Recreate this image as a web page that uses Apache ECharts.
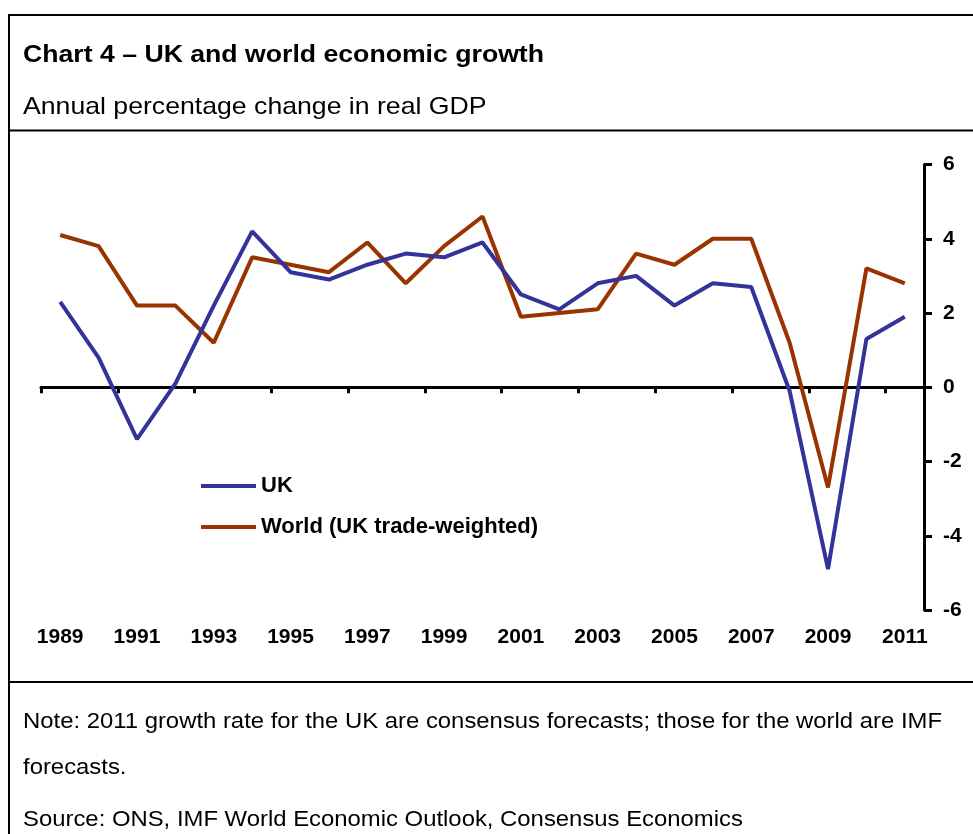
<!DOCTYPE html>
<html>
<head>
<meta charset="utf-8">
<script src="https://cdn.jsdelivr.net/npm/echarts@6/dist/echarts.min.js"></script>
<style>
  html, body { margin: 0; padding: 0; background: #fff; }
  #chart { width: 973px; height: 834px; }
</style>
</head>
<body>
<div id="chart"></div>
<script>
var years = ["1989", "1990", "1991", "1992", "1993", "1994", "1995", "1996", "1997", "1998", "1999", "2000",
  "2001", "2002", "2003", "2004", "2005", "2006", "2007", "2008", "2009", "2010", "2011"];
var ukGrowth = [2.3, 0.8, -1.4, 0.1, 2.2, 4.2, 3.1, 2.9, 3.3, 3.6, 3.5, 3.9,
  2.5, 2.1, 2.8, 3.0, 2.2, 2.8, 2.7, -0.1, -4.9, 1.3, 1.9];
var worldGrowth = [4.1, 3.8, 2.2, 2.2, 1.2, 3.5, 3.3, 3.1, 3.9, 2.8, 3.8, 4.6,
  1.9, 2.0, 2.1, 3.6, 3.3, 4.0, 4.0, 1.2, -2.7, 3.2, 2.8];
var yTicks = { min: -6, max: 6, step: 2 };

var FONT = "Liberation Sans, Arial, sans-serif";
var chart = echarts.init(document.getElementById("chart"));

// stretched text like the original (Excel export is a bit wider)
function txt(x, y, s, font, sx) {
  return { type: "text", x: x, y: y, scaleX: sx, style: { text: s, font: font, fill: "#000", textVerticalAlign: "middle" } };
}

var option = {
  animation: false,
  backgroundColor: "#fff",
  grid: { left: 41, right: 49, top: 164.5, bottom: 224 },
  legend: {
    orient: "vertical",
    left: 201,
    top: 475,
    padding: 0,
    itemWidth: 55,
    itemHeight: 4,
    itemGap: 19,
    icon: "rect",
    textStyle: { fontFamily: FONT, fontWeight: "bold", fontSize: 22, color: "#000", lineHeight: 20 },
    data: ["UK", "World (UK trade-weighted)"]
  },
  xAxis: [
    {
      type: "category",
      data: years,
      boundaryGap: true,
      axisLine: { onZero: true, lineStyle: { color: "#000", width: 3 } },
      axisTick: { show: true, interval: 1, length: 6, lineStyle: { color: "#000", width: 3 } },
      axisLabel: { show: false }
    },
    {
      type: "category",
      data: years,
      position: "bottom",
      boundaryGap: true,
      axisLine: { show: false },
      axisTick: { show: false },
      axisLabel: { interval: 1, margin: 17, fontFamily: FONT, fontWeight: "bold", fontSize: 21, color: "#000" }
    }
  ],
  yAxis: {
    type: "value",
    position: "right",
    min: yTicks.min,
    max: yTicks.max,
    interval: yTicks.step,
    axisLine: { show: true, lineStyle: { color: "#000", width: 3 } },
    axisTick: { show: true, inside: false, length: 8, lineStyle: { color: "#000", width: 3 } },
    splitLine: { show: false },
    axisLabel: { margin: 19, fontFamily: FONT, fontWeight: "bold", fontSize: 21, color: "#000" }
  },
  series: [
    {
      name: "UK",
      type: "line",
      xAxisIndex: 0,
      data: ukGrowth,
      showSymbol: false,
      color: "#333399",
      lineStyle: { color: "#333399", width: 4 },
      z: 3
    },
    {
      name: "World (UK trade-weighted)",
      type: "line",
      xAxisIndex: 0,
      data: worldGrowth,
      showSymbol: false,
      color: "#993300",
      lineStyle: { color: "#993300", width: 4 },
      z: 2
    }
  ],
  graphic: [
    // frame
    { type: "line", shape: { x1: 9, y1: 15, x2: 9, y2: 834 }, style: { stroke: "#000", lineWidth: 2 } },
    { type: "line", shape: { x1: 8, y1: 15, x2: 973, y2: 15 }, style: { stroke: "#000", lineWidth: 2 } },
    { type: "line", shape: { x1: 8, y1: 130.5, x2: 973, y2: 130.5 }, style: { stroke: "#000", lineWidth: 2 } },
    { type: "line", shape: { x1: 8, y1: 682, x2: 973, y2: 682 }, style: { stroke: "#000", lineWidth: 2 } },
    // texts
    txt(23, 55, "Chart 4 – UK and world economic growth", "bold 24px " + FONT, 1.11),
    txt(23, 107, "Annual percentage change in real GDP", "24px " + FONT, 1.11),
    txt(23, 722, "Note: 2011 growth rate for the UK are consensus forecasts; those for the world are IMF", "22px " + FONT, 1.085),
    txt(23, 768, "forecasts.", "22px " + FONT, 1.085),
    txt(23, 820, "Source: ONS, IMF World Economic Outlook, Consensus Economics", "22px " + FONT, 1.085)
  ]
};

chart.setOption(option);
</script>
</body>
</html>
